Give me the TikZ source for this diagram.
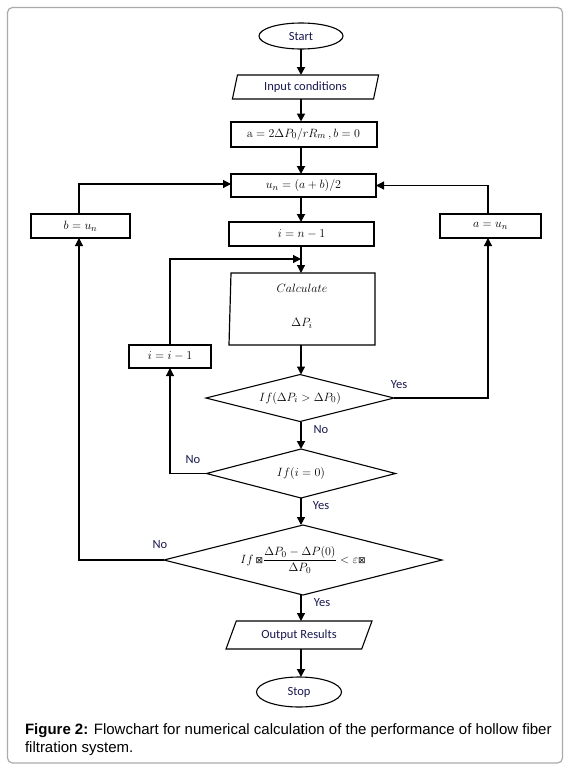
\documentclass[tikz,border=0pt]{standalone}
\usepackage[no-math]{fontspec}
\usepackage{amsmath}
\setmainfont{Carlito}
\newfontfamily\capfont{Liberation Sans}
\newfontfamily\dejavu{DejaVu Sans}
\usetikzlibrary{shapes.geometric,arrows.meta}
\definecolor{lbl}{RGB}{25,25,80}
\definecolor{framec}{RGB}{170,170,170}
\newcommand{\xbox}{{\dejavu\fontsize{9}{10}\selectfont ⊠}}
\begin{document}
\begin{tikzpicture}[x=1pt,y=-1pt,
  every node/.style={font=\fontsize{12.5}{14}\selectfont, inner sep=0pt, outer sep=0pt},
  mth/.style={font=\fontsize{13}{15}\selectfont},
  thickbox/.style={draw, rectangle, line width=2pt, minimum height=24pt, mth},
  term/.style={draw, ellipse, line width=1.1pt, text=lbl},
  io/.style={draw, trapezium, trapezium stretches=true, line width=1.1pt, text=lbl},
  dia/.style={draw, diamond, line width=1.1pt},
  lab/.style={text=lbl},
  arr/.style={-{Triangle[length=8pt,width=8pt]}},
  thk/.style={line width=1.8pt},
  thn/.style={line width=1.2pt}
]
\useasboundingbox (0,0) rectangle (570,769);
\draw[framec, line width=1.2pt, rounded corners=5pt] (7.5,7.5) rectangle (562.5,763);

% nodes
\node[term, minimum width=84pt, minimum height=26pt] (start) at (301,36) {Start};
\node[io, minimum width=147pt, minimum height=24pt, trapezium left angle=74, trapezium right angle=106] (input) at (305.5,87) {Input conditions};
\node[thickbox, minimum width=146pt, minimum height=25pt] (init) at (303.5,134) {$\mathrm{a}=2\Delta P_0/rR_m\,,b=0$};
\node[thickbox, minimum width=145pt, minimum height=23pt] (un) at (303.5,185.5) {$u_n=(a+b)/2$};
\node[thickbox, minimum width=99pt] (bun) at (80.5,226) {$b=u_n$};
\node[thickbox, minimum width=101pt] (aun) at (490.5,226) {$a=u_n$};
\node[thickbox, minimum width=145pt] (in1) at (301.5,234) {$i=n-1$};
\node[minimum width=146pt, minimum height=72pt] (calc) at (302,309) {};
\draw[thn] ([xshift=2pt]calc.north west) -- (calc.north east) -- (calc.south east) -- (calc.south west) -- cycle;
\node[mth] (calct) at (302,288) {$Calculate$};
\node[mth] (calcp) at (302,323) {$\Delta P_i$};
\node[thickbox, minimum width=82pt, minimum height=23pt] (ii1) at (170,356.5) {$i=i-1$};
\node[dia, minimum width=188pt, minimum height=47pt, label={[mth]center:{$If(\Delta P_i>\Delta P_0)$}}] (d1) at (300,398) {};
\node[dia, minimum width=189pt, minimum height=49pt, label={[mth]center:{$If(i=0)$}}] (d2) at (301,473.5) {};
\node[dia, minimum width=278pt, minimum height=70pt, label={[mth]center:{$If\,$\xbox$\dfrac{\Delta P_0-\Delta P(0)}{\Delta P_0}<\varepsilon$\xbox}}] (d3) at (303,560) {};
\node[io, minimum width=146pt, minimum height=28pt, trapezium left angle=60, trapezium right angle=120] (out) at (299,635) {Output Results};
\node[term, minimum width=85pt, minimum height=30pt] (stop) at (299,692) {Stop};

% main flow
\coordinate (ax) at (301,0);
\draw[thk,arr] (start.south) -- (start.south |- input.north);
\draw[thk,arr] (input.south -| ax) -- (ax |- init.north);
\draw[thk,arr] (init.south -| ax) -- (ax |- un.north);
\draw[thk,arr] (un.south -| ax) -- (ax |- in1.north);
\draw[thn,arr] (in1.south -| ax) -- (ax |- calc.north);
\coordinate (j1) at (301,259);
\draw[thn,arr] (ii1.north) |- (j1);
\draw[thn,arr] (calc.south -| ax) -- (ax |- d1.north);
\draw[thn] (d1.east) -| (488,396);
\draw[thn,arr] (488,396) -- (aun.south -| 488,0);
\draw[thn,arr] (aun.north -| 488,0) |- (un.east);
\draw[thk,arr] (d1.south -| ax) -- (ax |- d2.north);
\draw[thn,arr] (d2.west) -| (ii1.south);
\draw[thn,arr] (d2.south -| ax) -- (ax |- d3.north);
\draw[thn,arr] (d3.west) -| (bun.south -| 79,0);
\draw[thn,arr] (bun.north -| 79,0) |- (un.west |- 0,184);
\draw[thn,arr] (d3.south -| ax) -- (ax |- out.north);
\draw[thk,arr] (out.south -| ax) -- (ax |- stop.north);

% labels
\node[lab] (y1) at (399,385) {Yes};
\node[lab] (n1) at (321,430) {No};
\node[lab] (n2) at (193,460) {No};
\node[lab] (y2) at (321,506) {Yes};
\node[lab] (n3) at (160,545) {No};
\node[lab] (y3) at (322,603) {Yes};

% caption
\node[anchor=base west, font=\capfont\fontsize{15}{18}\selectfont] (cap1) at (25,734) {\textbf{Figure 2:} Flowchart for numerical calculation of the performance of hollow fiber};
\node[anchor=base west, font=\capfont\fontsize{15}{18}\selectfont] (cap2) at (25,752) {filtration system.};
\end{tikzpicture}
\end{document}
